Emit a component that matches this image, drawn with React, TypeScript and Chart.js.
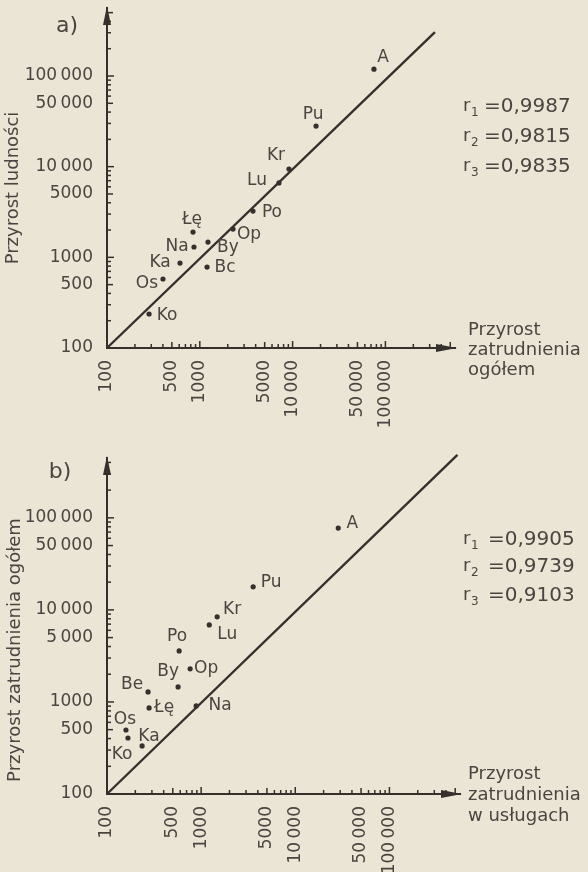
import React, { useEffect, useRef } from "react";
import { Chart, registerables } from "chart.js";

Chart.register(...registerables);

const FONT = '"DejaVu Sans", "Liberation Sans", sans-serif';
const INK = "#35302c";
const TEXT = "#4a4540";
const PAPER = "#ebe5d5";
const W = 588;
const H = 436;

// ---------- tick labels ----------
const tickValues = [100, 500, 1000, 5000, 10000, 50000, 100000];
const tickLabelsX = ["100", "500", "1000", "5000", "10\u2009000", "50\u2009000", "100\u2009000"];
const tickLabelsYA = ["100", "500", "1000", "5000", "10\u2009000", "50\u2009000", "100\u2009000"];
const tickLabelsYB = ["100", "500", "1000", "5\u2009000", "10\u2009000", "50\u2009000", "100\u2009000"];

// ---------- panel a: population growth vs total employment growth ----------
const citiesA = ["A", "Pu", "Kr", "Lu", "Po", "Op", "By", "Łę", "Na", "Ka", "Bc", "Os", "Ko"];
const employmentTotalA = [75300, 17900, 9140, 7130, 3740, 2280, 1225, 845, 866, 612, 1197, 401, 284];
const populationA = [119000, 28000, 9400, 6610, 3240, 2050, 1475, 1900, 1300, 865, 781, 577, 237];
const fitXA = [100, 342000];
const fitYA = [100, 305000];
const rValuesA = ["0,9987", "0,9815", "0,9835"];
const xTitleA = ["Przyrost", "zatrudnienia", "ogółem"];
const yTitleA = "Przyrost ludności";

// ---------- panel b: total employment growth vs services employment growth ----------
const citiesB = ["A", "Pu", "Kr", "Lu", "Po", "Op", "By", "Be", "Łę", "Na", "Os", "Ka", "Ko"];
const servicesB = [28600, 3570, 1480, 1220, 584, 764, 569, 273, 280, 886, 159, 167, 236];
const employmentTotalB = [77500, 17800, 8400, 6870, 3580, 2290, 1456, 1285, 861, 906, 496, 406, 333];
const fitXB = [100, 528000];
const fitYB = [100, 484000];
const rValuesB = ["0,9905", "0,9739", "0,9103"];
const xTitleB = ["Przyrost", "zatrudnienia", "w usługach"];
const yTitleB = "Przyrost zatrudnienia ogółem";

// ---------- layout (label offsets in px, positions) ----------
const labelDxA = [9, -3, -13, -22, 19, 16, 20, -1, -17, -20, 18, -16, 18];
const labelDyA = [-12, -12, -14, -2, 2, 6, 6, -12, 0, 0, 1, 5, 2];
const labelDxB = [14, 18, 15, 18, -2, 16, -10, -16, 15, 24, -1, 21, -20];
const labelDyB = [-4, -4, -7, 10, -14, 0, -15, -7, 0, 0, -10, -1, 9];

type Panel = {
  top: number;
  area: { left: number; right: number; top: number; bottom: number };
  xMax: number;
  yMax: number;
  names: string[];
  xs: number[];
  ys: number[];
  fitX: number[];
  fitY: number[];
  dx: number[];
  dy: number[];
  xLabels: string[];
  yLabels: string[];
  rValues: string[];
  rX: number;
  eqX: number;
  rY: number[];
  xTitle: string[];
  xTitleX: number;
  xTitleY: number[];
  yTitle: string;
  yTitlePos: [number, number];
  tag: string;
  tagPos: [number, number];
};

const panels: Panel[] = [
  {
    top: 0,
    area: { left: 107, right: 455, top: 8, bottom: 348 },
    xMax: Math.pow(10, 5.75),
    yMax: Math.pow(10, 5.75),
    names: citiesA,
    xs: employmentTotalA,
    ys: populationA,
    fitX: fitXA,
    fitY: fitYA,
    dx: labelDxA,
    dy: labelDyA,
    xLabels: tickLabelsX,
    yLabels: tickLabelsYA,
    rValues: rValuesA,
    rX: 463,
    eqX: 484,
    rY: [107, 137, 167],
    xTitle: xTitleA,
    xTitleX: 468,
    xTitleY: [330, 350, 370],
    yTitle: yTitleA,
    yTitlePos: [13, 188],
    tag: "a)",
    tagPos: [67, 26],
  },
  {
    top: 436,
    area: { left: 107, right: 460, top: 22, bottom: 358 },
    xMax: Math.pow(10, 5.75),
    yMax: Math.pow(10, 5.65),
    names: citiesB,
    xs: servicesB,
    ys: employmentTotalB,
    fitX: fitXB,
    fitY: fitYB,
    dx: labelDxB,
    dy: labelDyB,
    xLabels: tickLabelsX,
    yLabels: tickLabelsYB,
    rValues: rValuesB,
    rX: 463,
    eqX: 488,
    rY: [104, 131, 160],
    xTitle: xTitleB,
    xTitleX: 468,
    xTitleY: [338, 359, 380],
    yTitle: yTitleB,
    yTitlePos: [15, 214],
    tag: "b)",
    tagPos: [60, 36],
  },
];

function logTicks(max: number): number[] {
  const out: number[] = [];
  for (let d = 100; d <= max; d *= 10) {
    for (let m = 1; m <= 9; m++) {
      const v = m * d;
      if (v <= max) out.push(v);
    }
  }
  return out;
}

function labelFor(v: number, labels: string[]): string {
  const i = tickValues.indexOf(v);
  return i >= 0 ? labels[i] : "";
}

function decorPlugin(p: Panel) {
  return {
    id: "decor",
    afterDraw(chart: any) {
      const ctx = chart.ctx as CanvasRenderingContext2D;
      const a = chart.chartArea;
      const xs = chart.scales.x;
      const ys = chart.scales.y;
      ctx.save();
      // inward tick marks
      ctx.strokeStyle = INK;
      ctx.lineWidth = 1.5;
      const len = (v: number) => {
        const m = v / Math.pow(10, Math.floor(Math.log10(v) + 1e-9));
        if (Math.abs(m - 1) < 1e-6) return 7;
        if (Math.abs(m - 5) < 1e-6) return 6;
        return 4;
      };
      for (const t of xs.ticks) {
        const px = xs.getPixelForValue(t.value);
        ctx.beginPath();
        ctx.moveTo(px, a.bottom);
        ctx.lineTo(px, a.bottom - len(t.value));
        ctx.stroke();
      }
      for (const t of ys.ticks) {
        const py = ys.getPixelForValue(t.value);
        ctx.beginPath();
        ctx.moveTo(a.left, py);
        ctx.lineTo(a.left + len(t.value), py);
        ctx.stroke();
      }
      // arrow heads
      ctx.fillStyle = INK;
      ctx.beginPath();
      ctx.moveTo(a.left, a.top - 2);
      ctx.lineTo(a.left - 4, a.top + 17);
      ctx.lineTo(a.left + 4, a.top + 17);
      ctx.closePath();
      ctx.fill();
      ctx.beginPath();
      ctx.moveTo(a.right + 2, a.bottom);
      ctx.lineTo(a.right - 19, a.bottom - 4);
      ctx.lineTo(a.right - 19, a.bottom + 4);
      ctx.closePath();
      ctx.fill();

      // point labels
      ctx.fillStyle = TEXT;
      ctx.font = `17px ${FONT}`;
      ctx.textAlign = "center";
      ctx.textBaseline = "middle";
      const meta = chart.getDatasetMeta(0);
      meta.data.forEach((el: any, i: number) => {
        ctx.fillText(p.names[i], el.x + p.dx[i], el.y + p.dy[i]);
      });

      // x axis title
      ctx.textAlign = "left";
      ctx.font = `18px ${FONT}`;
      p.xTitle.forEach((line, i) => ctx.fillText(line, p.xTitleX, p.xTitleY[i]));

      // y axis title
      ctx.save();
      ctx.translate(p.yTitlePos[0], p.yTitlePos[1]);
      ctx.rotate(-Math.PI / 2);
      ctx.textAlign = "center";
      ctx.fillText(p.yTitle, 0, 0);
      ctx.restore();

      // panel tag
      ctx.font = `22px ${FONT}`;
      ctx.textAlign = "center";
      ctx.fillText(p.tag, p.tagPos[0], p.tagPos[1]);

      // correlation coefficients
      p.rValues.forEach((val, i) => {
        const y = p.rY[i];
        ctx.textAlign = "left";
        ctx.font = `18px ${FONT}`;
        ctx.fillText("r", p.rX, y - 1);
        ctx.font = `12px ${FONT}`;
        ctx.fillText(String(i + 1), p.rX + 8, y + 6);
        ctx.font = `20px ${FONT}`;
        ctx.fillText("=" + val, p.eqX, y);
      });
      ctx.restore();
    },
  };
}

function PanelChart({ p }: { p: Panel }) {
  const ref = useRef<HTMLCanvasElement | null>(null);
  useEffect(() => {
    if (!ref.current) return;
    const tickFont = { family: FONT, size: 17 };
    const chart = new Chart(ref.current, {
      type: "scatter",
      data: {
        datasets: [
          {
            data: p.xs.map((x, i) => ({ x, y: p.ys[i] })),
            pointRadius: 2.6,
            pointBackgroundColor: INK,
            pointBorderWidth: 0,
            showLine: false,
          },
          {
            data: p.fitX.map((x, i) => ({ x, y: p.fitY[i] })),
            showLine: true,
            borderColor: INK,
            borderWidth: 2.4,
            pointRadius: 0,
            fill: false,
            clip: false,
          } as any,
        ],
      },
      options: {
        animation: false,
        responsive: false,
        devicePixelRatio: 1,
        layout: { padding: { left: 0, top: p.area.top, right: W - p.area.right, bottom: 0 } },
        plugins: { legend: { display: false }, tooltip: { enabled: false } },
        scales: {
          x: {
            type: "logarithmic",
            position: "bottom",
            min: 100,
            max: p.xMax,
            grid: { display: false },
            border: { display: true, color: INK, width: 2 },
            afterBuildTicks: (s: any) => {
              s.ticks = logTicks(p.xMax).map((v) => ({ value: v }));
            },
            afterFit: (s: any) => {
              s.height = H - p.area.bottom;
              s.paddingLeft = 0;
              s.paddingRight = 0;
            },
            ticks: {
              autoSkip: false,
              minRotation: 90,
              maxRotation: 90,
              padding: 4,
              color: TEXT,
              font: tickFont,
              callback: (v: any) => labelFor(Number(v), p.xLabels),
            },
          },
          y: {
            type: "logarithmic",
            position: "left",
            min: 100,
            max: p.yMax,
            grid: { display: false },
            border: { display: true, color: INK, width: 2 },
            afterBuildTicks: (s: any) => {
              s.ticks = logTicks(p.yMax).map((v) => ({ value: v }));
            },
            afterFit: (s: any) => {
              s.width = p.area.left;
              s.paddingTop = 0;
              s.paddingBottom = 0;
            },
            ticks: {
              autoSkip: false,
              padding: 6,
              color: TEXT,
              font: tickFont,
              callback: (v: any) => labelFor(Number(v), p.yLabels),
            },
          },
        },
      } as any,
      plugins: [decorPlugin(p)],
    });
    return () => chart.destroy();
  }, [p]);
  return (
    <canvas
      ref={ref}
      width={W}
      height={H}
      style={{ position: "absolute", left: 0, top: p.top, width: W, height: H }}
    />
  );
}

export default function App() {
  return (
    <div
      style={{
        position: "absolute",
        left: 0,
        top: 0,
        width: W,
        height: 872,
        background: PAPER,
        overflow: "hidden",
      }}
    >
      {panels.map((p, i) => (
        <PanelChart key={i} p={p} />
      ))}
    </div>
  );
}
